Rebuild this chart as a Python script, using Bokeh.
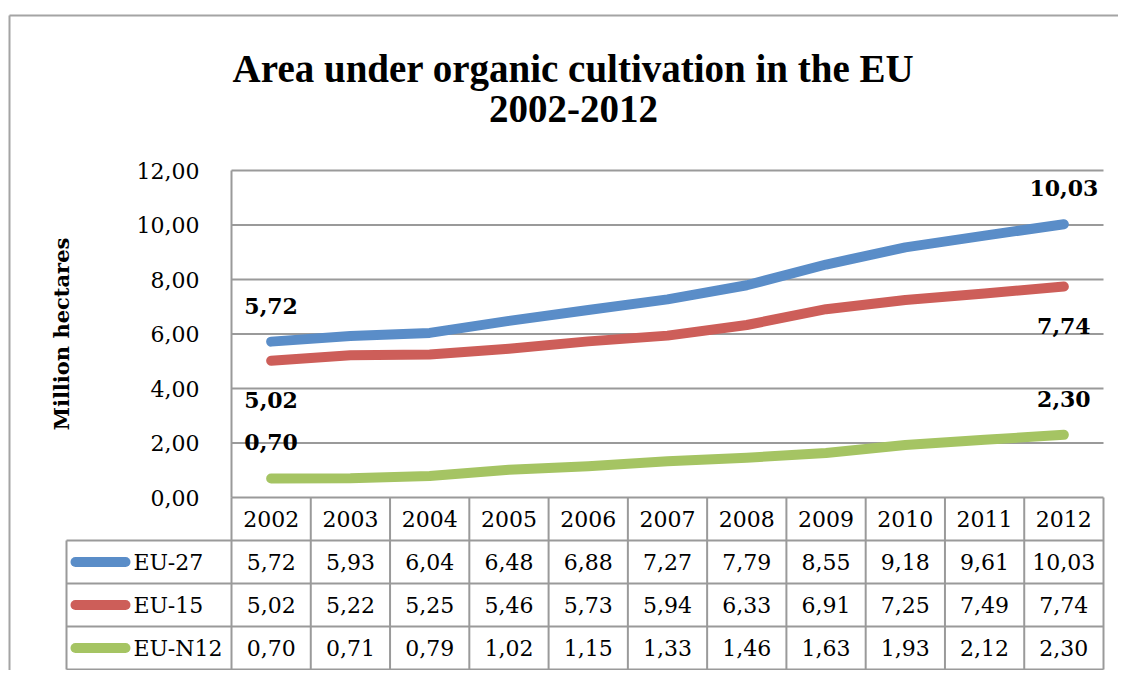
from bokeh.plotting import figure
from bokeh.models import Range1d, FixedTicker, CustomJSTickFormatter, ColumnDataSource
from bokeh.embed import file_html
from bokeh.resources import INLINE
from bokeh.core.properties import value

# ---------------- data ----------------
years = ["2002", "2003", "2004", "2005", "2006", "2007", "2008", "2009", "2010", "2011", "2012"]
eu27 = [5.72, 5.93, 6.04, 6.48, 6.88, 7.27, 7.79, 8.55, 9.18, 9.61, 10.03]
eu15 = [5.02, 5.22, 5.25, 5.46, 5.73, 5.94, 6.33, 6.91, 7.25, 7.49, 7.74]
eun12 = [0.70, 0.71, 0.79, 1.02, 1.15, 1.33, 1.46, 1.63, 1.93, 2.12, 2.30]
series_names = ["EU-27", "EU-15", "EU-N12"]
y_ticks = [0, 2, 4, 6, 8, 10, 12]
title_lines = ["Area under organic cultivation in the EU", "2002-2012"]
y_label = "Million hectares"

# ---------------- style ----------------
colors = ["#5A8DC8", "#CD5E59", "#A5C463"]
label_offsets = [-36, 39, -36]   # data labels: above / below / above (px)
SERIF = "DejaVu Serif"
TITLE_FONT = "Liberation Serif"
GRID = "#9a9a9a"
series = [eu27, eu15, eun12]


def fmt(v):
    return f"{v:.2f}".replace(".", ",")


n = len(years)
nrows = len(series_names)
xs = [i + 0.5 for i in range(n)]

# page-pixel layout
W, H = 1118, 670
PX0, PY0 = 0, 0
PLOT_L, PLOT_R, PLOT_T, PLOT_B = 231, 1103, 170, 497
TABLE_B = 669
colw = (PLOT_R - PLOT_L) / n
unit = (PLOT_B - PLOT_T) / 12.0
rowh = (TABLE_B - PLOT_B) / (nrows + 1)


def px_x(px):
    return (px - PLOT_L) / colw


def px_y(py):
    return (PLOT_B - py) / unit


p = figure(width=W, height=H,
           x_range=Range1d(px_x(PX0), px_x(PX0 + W)),
           y_range=Range1d(px_y(PY0 + H), px_y(PY0)),
           output_backend="svg", toolbar_location=None,
           x_axis_location=None,
           min_border_left=0, min_border_right=0,
           min_border_top=0, min_border_bottom=0)
p.outline_line_color = None
p.background_fill_color = "white"
p.border_fill_color = "white"
p.grid.visible = False

# table coordinate system: rows 0..nrows+1 (header row on top)
p.extra_y_ranges = {"table": Range1d(-(PY0 + H - TABLE_B) / rowh,
                                     (nrows + 1) + (PLOT_B - PY0) / rowh)}

# outer chart border (top and left edges visible in the crop)
p.segment(x0=[px_x(9), px_x(9)], y0=[px_y(15), px_y(15)],
          x1=[px_x(PX0 + W), px_x(9)], y1=[px_y(15), px_y(PY0 + H)],
          line_color="#a4a4a4", line_width=2)

# y axis drawn at x = 0 (plot-area left edge)
ax = p.yaxis[0]
ax.fixed_location = 0
ax.bounds = (0, 12)
ax.ticker = FixedTicker(ticks=y_ticks)
ax.formatter = CustomJSTickFormatter(code="return tick.toFixed(2).replace('.', ',');")
ax.major_label_text_font = SERIF
ax.major_label_text_font_size = "22px"
ax.major_label_text_color = "black"
ax.major_tick_line_color = None
ax.minor_tick_line_color = None
ax.axis_line_color = GRID
ax.axis_line_width = 2
ax.major_label_standoff = 26
ax.axis_label = y_label
ax.axis_label_text_font = SERIF
ax.axis_label_text_font_style = "bold"
ax.axis_label_text_font_size = "21px"
ax.axis_label_text_color = "black"
ax.axis_label_standoff = 60

# horizontal gridlines over the plot area
p.segment(x0=[0] * len(y_ticks), y0=y_ticks, x1=[n] * len(y_ticks), y1=y_ticks,
          line_color=GRID, line_width=2)

# series lines
for vals, col in zip(series, colors):
    p.line(xs, vals, line_width=10, line_color=col, line_cap="round", line_join="round")

# data labels (first and last points)
for vals, off in zip(series, label_offsets):
    src = ColumnDataSource(dict(x=[xs[0], xs[-1]], y=[vals[0], vals[-1]],
                                t=[fmt(vals[0]), fmt(vals[-1])]))
    p.text(x="x", y="y", text="t", source=src, y_offset=off,
           text_align="center", text_baseline="middle",
           text_font=value(SERIF), text_font_style="bold",
           text_font_size="22px", text_color="black")

# title
p.text(x=[px_x(573)] * 2, y=[px_y(68), px_y(108)], text=title_lines,
       text_align="center", text_baseline="alphabetic",
       text_font=value(TITLE_FONT), text_font_style="bold",
       text_font_size="39px", text_color="black")

# ---------------- data table ----------------
xl = px_x(66)
hy = list(range(nrows + 1))
p.segment(x0=[xl] * (nrows + 1), y0=hy, x1=[n] * (nrows + 1), y1=hy,
          line_color=GRID, line_width=2, y_range_name="table")
vx = list(range(n + 1)) + [xl]
vy1 = [nrows + 1] * (n + 1) + [nrows]
p.segment(x0=vx, y0=[0] * (n + 2), x1=vx, y1=vy1,
          line_color=GRID, line_width=2, y_range_name="table")

p.text(x=xs, y=[nrows + 0.5] * n, text=years, text_align="center", text_baseline="middle",
       text_font=value(SERIF), text_font_size="22px", text_color="black",
       y_range_name="table")
for r, (name, vals, col) in enumerate(zip(series_names, series, colors)):
    yc = nrows - r - 0.5
    p.text(x=xs, y=[yc] * n, text=[fmt(v) for v in vals],
           text_align="center", text_baseline="middle",
           text_font=value(SERIF), text_font_size="22px", text_color="black",
           y_range_name="table")
    p.segment(x0=[px_x(75)], y0=[yc], x1=[px_x(125)], y1=[yc],
              line_color=col, line_width=10, line_cap="round", y_range_name="table")
    p.text(x=[px_x(133)], y=[yc], text=[name], text_align="left",
           text_baseline="middle", text_font=value(SERIF), text_font_size="22px",
           text_color="black", y_range_name="table")

open("out.html", "w").write(file_html(p, INLINE))
